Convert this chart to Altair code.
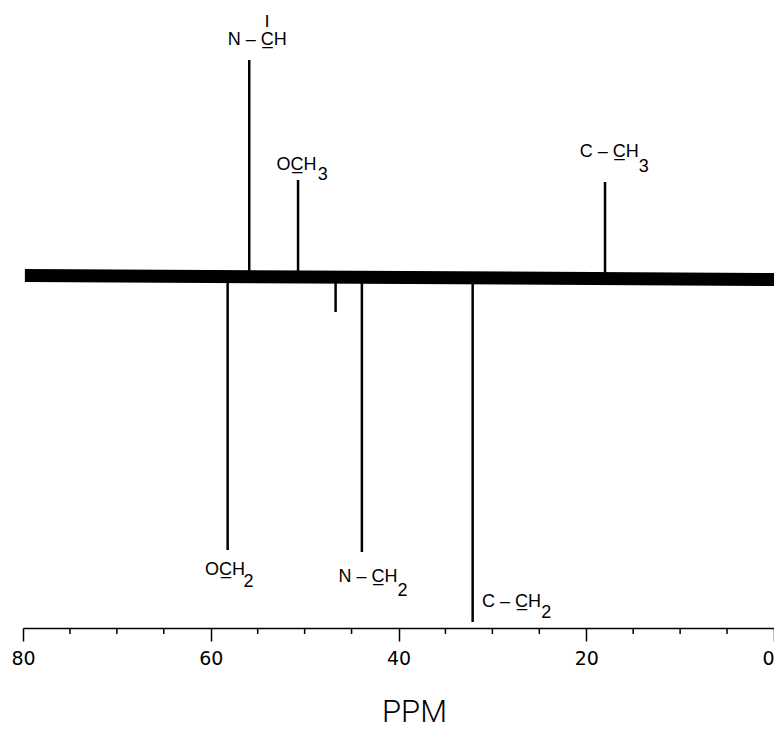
import altair as alt
import pandas as pd

# ---- data (DEPT-type 13C spectrum) ----
peak_ppm = [58.2, 55.9, 50.7, 46.7, 43.9, 32.1, 18.0]
peak_int = [-273, 217, 97, -35, -275, -345, 95]   # arbitrary intensity units, baseline = 0

baseline_ppm = [79.8, 0]
baseline_hi = [8, 4]
baseline_lo = [-5, -9]

major_ticks = [80, 60, 40, 20, 0]
minor_ticks = [75, 70, 65, 55, 50, 45, 35, 30, 25, 15, 10, 5]

label_text = ["N – C\u0332H", "|", "OC\u0332H", "3", "C – C\u0332H", "3",
              "OC\u0332H", "2", "N – C\u0332H", "2", "C – C\u0332H", "2"]
label_ppm = [58.2, 54.0, 53.0, 48.6, 20.7, 14.4,
             60.6, 56.5, 46.4, 40.1, 31.1, 24.8]
label_int = [232, 253, 107, 97, 120, 105,
             -298, -310, -305, -319, -330, -341]
label_size = [18, 13, 18, 18, 18, 18, 18, 18, 18, 18, 18, 18]
label_align = ["left", "center", "left", "left", "left", "left",
               "left", "left", "left", "left", "left", "left"]

W, H = 751, 620
FONT = "Liberation Sans"

xscale = alt.Scale(domain=[0, 80], reverse=True, nice=False, zero=False)
yscale = alt.Scale(domain=[-351, 269], nice=False, zero=False)

peaks = pd.DataFrame({"ppm": peak_ppm, "y": peak_int, "y0": [0] * len(peak_ppm)})
base = pd.DataFrame({"ppm": baseline_ppm, "hi": baseline_hi, "lo": baseline_lo})
minor = pd.DataFrame({"ppm": minor_ticks})
labels = pd.DataFrame({"ppm": label_ppm, "y": label_int, "t": label_text,
                       "s": label_size, "a": label_align})

band = alt.Chart(base).mark_area(color="black", opacity=1).encode(
    x=alt.X("ppm:Q", scale=xscale,
            axis=alt.Axis(values=major_ticks, title="PPM", format="d",
                          tickSize=13, tickWidth=1.5, tickColor="black",
                          domainColor="black", domainWidth=1.5,
                          labelFont="DejaVu Sans", labelFontSize=19, labelColor="black",
                          labelPadding=8, labelFlush=False,
                          labelAlign=alt.condition("datum.value == 0",
                                                   alt.value("right"),
                                                   alt.value("center")),
                          grid=False,
                          titleFont="Roboto", titleFontWeight=300,
                          titleFontSize=31, titleColor="black",
                          titleX=391, titleY=93, titleAlign="center",
                          titleBaseline="alphabetic")),
    y=alt.Y("lo:Q", scale=yscale, axis=None),
    y2="hi:Q",
)

rules = alt.Chart(peaks).mark_rule(color="black", strokeWidth=2.5).encode(
    x=alt.X("ppm:Q", scale=xscale),
    y=alt.Y("y0:Q", scale=yscale),
    y2="y:Q",
)

minor_rules = alt.Chart(minor).mark_rule(color="black", strokeWidth=1.5).encode(
    x=alt.X("ppm:Q", scale=xscale),
    y=alt.value(H),
    y2=alt.value(H + 6),
)

texts = []
for al in ["left", "center"]:
    texts.append(
        alt.Chart(labels[labels["a"] == al]).mark_text(
            font=FONT, color="black", fill="black", align=al, baseline="alphabetic",
            fontWeight="bold" if al == "center" else "normal"
        ).encode(
            x=alt.X("ppm:Q", scale=xscale),
            y=alt.Y("y:Q", scale=yscale),
            text="t:N",
            size=alt.Size("s:Q", scale=None, legend=None),
        )
    )

chart = alt.layer(band, rules, minor_rules, *texts).properties(
    width=W, height=H,
    autosize=alt.AutoSizeParams(type="none"),
    padding={"left": 15, "top": 0, "right": 0, "bottom": 100},
).configure(background="white").configure_view(stroke=None)

chart.save("out.html", embed_options={"renderer": "svg", "actions": False})
